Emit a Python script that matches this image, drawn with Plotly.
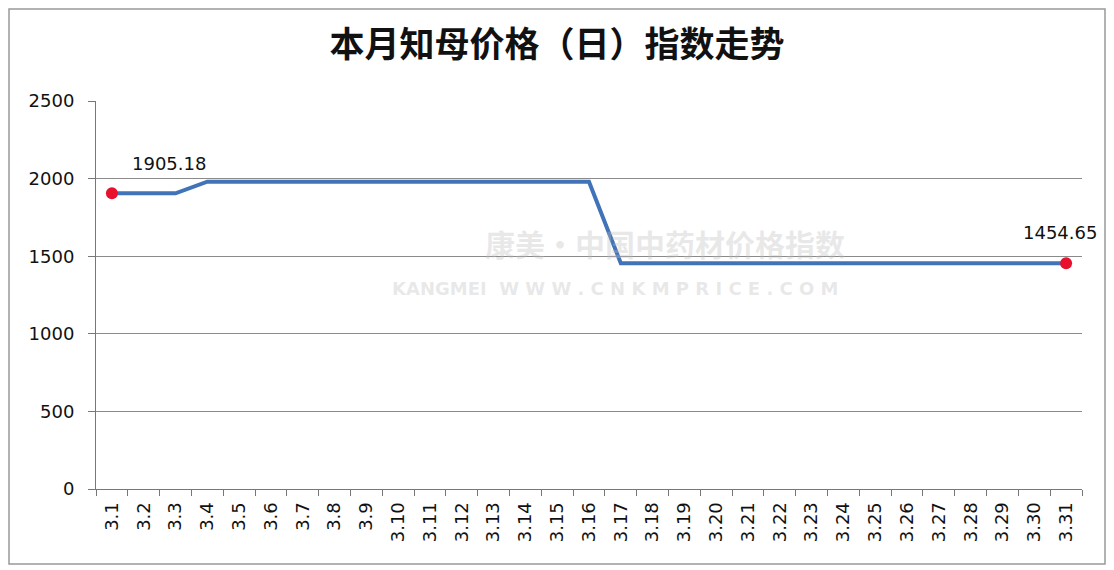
import plotly.graph_objects as go

dates = ["3.%d" % d for d in range(1, 32)]
values = [1905.18, 1905.18, 1905.18] + [1980.0] * 13 + [1454.65] * 15
y_ticks = [0, 500, 1000, 1500, 2000, 2500]
title = "本月知母价格（日）指数走势"

W, H = 1106, 562
L, R, T, B = 88, 32, 93, 81
PW, PH = W - L - R, H - T - B

fig = go.Figure()
fig.add_trace(go.Scatter(x=dates, y=values, mode="lines",
                         line=dict(color="#4173b8", width=4), hoverinfo="skip"))
fig.add_trace(go.Scatter(x=[dates[0], dates[-1]], y=[values[0], values[-1]],
                         mode="markers", marker=dict(color="#e8112d", size=12),
                         hoverinfo="skip"))

last = len(dates) - 1
fig.add_annotation(x=0, y=values[0], text=f"{values[0]:.2f}", showarrow=False,
                   xanchor="left", yanchor="bottom", xshift=18, yshift=17,
                   font=dict(family="DejaVu Sans", size=18, color="#111"))
fig.add_annotation(x=last, y=values[-1], text=f"{values[-1]:.2f}", showarrow=False,
                   xanchor="center", yanchor="bottom", xshift=-6, yshift=18,
                   font=dict(family="DejaVu Sans", size=18, color="#111"))

# faint watermark
fig.add_annotation(xref="paper", yref="paper", x=(657 - L) / PW, y=(481 - 235) / PH,
                   text="<b>康美·中国中药材价格指数</b>",
                   showarrow=False, font=dict(family="Noto Sans CJK SC", size=30, color="rgba(190,190,190,0.35)"))
fig.add_annotation(xref="paper", yref="paper", x=(607 - L) / PW, y=(481 - 280) / PH,
                   text="<b>KANGMEI  W W W . C N K M P R I C E . C O M</b>",
                   showarrow=False, font=dict(family="DejaVu Sans", size=18, color="rgba(190,190,190,0.35)"))

fig.update_layout(
    width=W, height=H,
    margin=dict(l=L, r=R, t=T, b=B),
    paper_bgcolor="white", plot_bgcolor="white",
    showlegend=False,
    title=dict(text=title, x=549 / W, xanchor="center", y=1 - 37 / H, yanchor="middle",
               font=dict(family="Noto Sans CJK SC", size=35, color="#111", weight="bold")),
    xaxis=dict(type="category", range=[-0.5, last + 0.5], tickson="boundaries",
               ticks="outside", ticklen=6, ticklabelstandoff=5,
               tickcolor="#777", showline=True, linecolor="#777", linewidth=1,
               showgrid=False, tickangle=-90,
               tickfont=dict(family="DejaVu Sans", size=18, color="#111")),
    yaxis=dict(range=[0, 2500], tickvals=y_ticks, ticks="outside", ticklen=7,
               tickcolor="#777", showline=True, linecolor="#777", linewidth=1,
               gridcolor="#8a8a8a", gridwidth=1, zeroline=False, ticklabelstandoff=10,
               tickfont=dict(family="DejaVu Sans", size=18, color="#111")),
)

# outer border
fig.add_shape(type="rect", xref="paper", yref="paper",
              x0=(1 - L) / PW, x1=(1097 - L) / PW,
              y0=(481 - 556) / PH, y1=(481 - 1) / PH,
              line=dict(color="#999", width=1.5))

fig.write_html("out.html")
